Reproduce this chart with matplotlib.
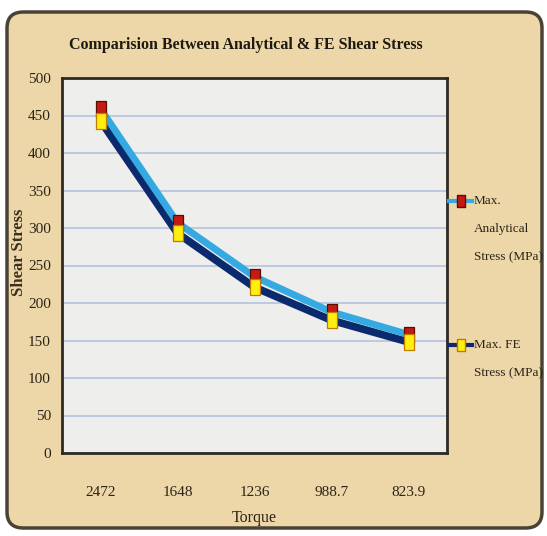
import numpy as np
import matplotlib
matplotlib.use("Agg")
import matplotlib.pyplot as plt
from matplotlib.patches import FancyBboxPatch
from matplotlib.lines import Line2D

# Data
torque_labels = ["2472", "1648", "1236", "988.7", "823.9"]
analytical_stress = [459, 307, 235, 188, 158]
fe_stress = [443, 293, 221, 177, 148]
y_ticks = [0, 50, 100, 150, 200, 250, 300, 350, 400, 450, 500]

serif = ["Liberation Serif", "DejaVu Serif"]
plt.rcParams["font.family"] = serif

W, H = 547, 536
fig = plt.figure(figsize=(W / 100, H / 100), dpi=100)
fig.patch.set_facecolor("white")

# Parchment-style rounded frame behind everything
frame = FancyBboxPatch((7 / W, 8 / H), 535 / W, 516 / H,
                       boxstyle="round,pad=0,rounding_size=0.03",
                       transform=fig.transFigure, facecolor="#edd7a8",
                       edgecolor="#4a4235", linewidth=2.5, zorder=0)
fig.add_artist(frame)

ax = fig.add_axes([62 / W, 1 - 453 / H, 385 / W, 375 / H])
ax.set_facecolor("#eeeeec")

# Tall rectangular marker shape
rect = [(-0.32, -0.5), (0.32, -0.5), (0.32, 0.5), (-0.32, 0.5), (-0.32, -0.5)]

x = np.arange(len(torque_labels))
ax.plot(x, fe_stress, color="#0b2a6e", linewidth=5.5, solid_capstyle="butt",
        zorder=3)
ax.plot(x, analytical_stress, color="#35a9e2", linewidth=5,
        solid_capstyle="butt", zorder=4)
ax.plot(x, analytical_stress, linestyle="none", marker=rect, markersize=11,
        markerfacecolor="#c41a12", markeredgecolor="#5a0d08",
        markeredgewidth=0.9, zorder=5)
ax.plot(x, fe_stress, linestyle="none", marker=rect, markersize=11,
        markerfacecolor="#ffee10", markeredgecolor="#c07a00",
        markeredgewidth=0.9, zorder=6)

ax.set_xlim(-0.5, len(torque_labels) - 0.5)
ax.set_ylim(0, 500)
ax.set_yticks(y_ticks)
ax.set_xticks(x)
ax.set_xticklabels(torque_labels)
ax.yaxis.grid(True, color="#b9c5dd", linewidth=1.3)
ax.set_axisbelow(True)
ax.tick_params(length=0, labelsize=11, colors="#2a2418")
ax.tick_params(axis="x", pad=24)
ax.tick_params(axis="y", pad=8)
for s in ax.spines.values():
    s.set_color("#2e2a24")
    s.set_linewidth(2)

ax.set_xlabel("Torque", fontsize=11.5, color="#2a2418", labelpad=8)
ax.set_ylabel("Shear Stress", fontsize=12, fontweight="bold",
              color="#3a3020")
ax.yaxis.set_label_coords(-35 / 385, 0.535)

fig.text(246 / W, 1 - 45 / H, "Comparision Between Analytical & FE Shear Stress",
         ha="center", va="center", fontsize=11.5, fontweight="bold",
         color="#1e1a12")

# Legend drawn in the right margin
def legend_entry(ypix, line_color, face, edge, lines):
    yf = 1 - ypix / H
    fig.add_artist(Line2D([449 / W, 472 / W], [yf, yf], transform=fig.transFigure,
                          color=line_color, linewidth=3, zorder=3))
    fig.add_artist(Line2D([461 / W], [yf], transform=fig.transFigure,
                          marker=rect, markersize=9, markerfacecolor=face,
                          markeredgecolor=edge, linestyle="none", zorder=4))
    for i, t in enumerate(lines):
        fig.text(474 / W, yf - i * 28 / H, t, ha="left", va="center",
                 fontsize=9.5, color="#2a2418")

legend_entry(201, "#35a9e2", "#c41a12", "#5a0d08",
             ["Max.", "Analytical", "Stress (MPa)"])
legend_entry(345, "#0b2a6e", "#ffee10", "#c07a00",
             ["Max. FE", "Stress (MPa)"])

fig.savefig("out.png", dpi=100, facecolor=fig.get_facecolor())
